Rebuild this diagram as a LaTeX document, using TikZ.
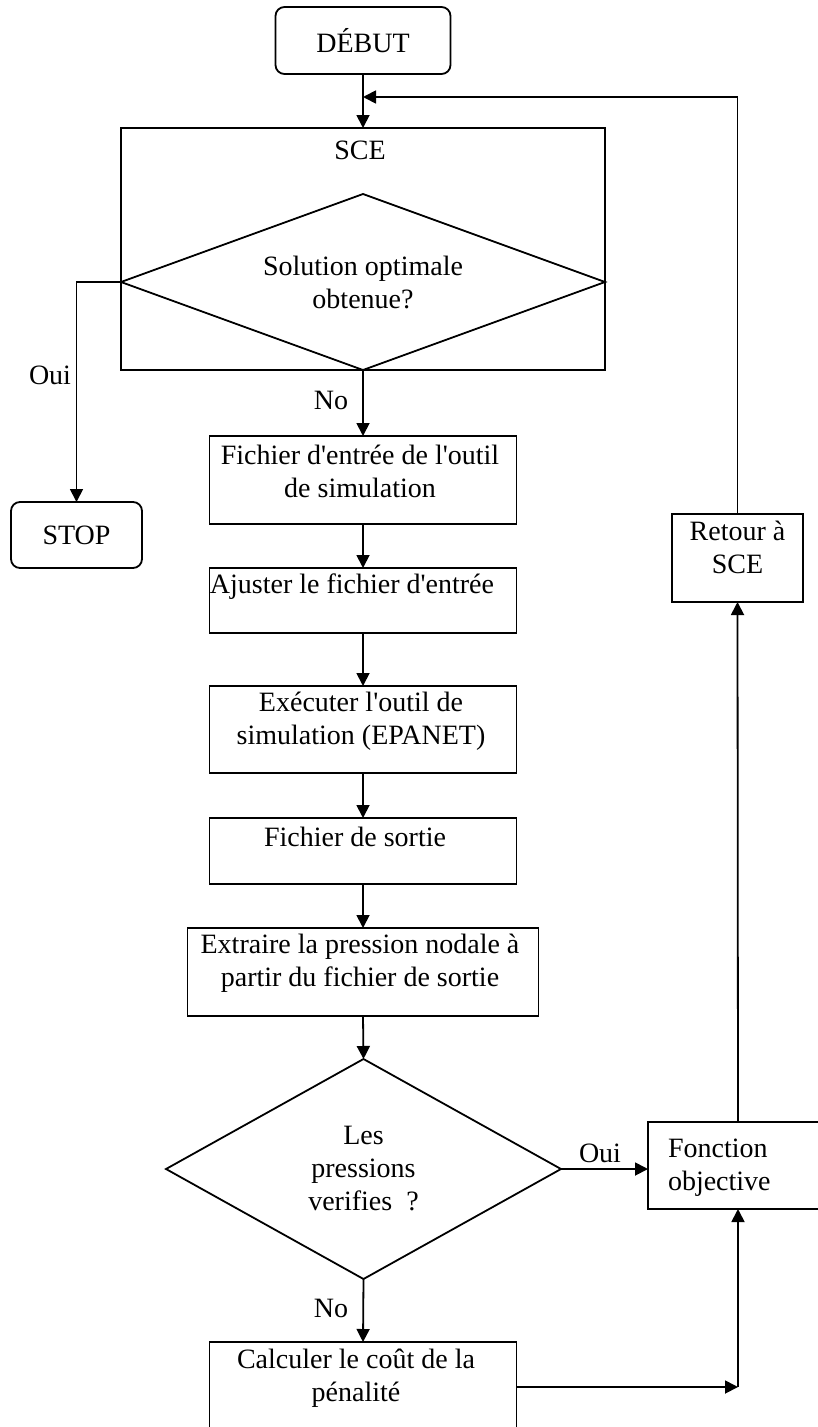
\documentclass[tikz,border=0pt]{standalone}
\usepackage{fontspec}
\setmainfont{Liberation Serif}[Ligatures=TeXOff]
\usetikzlibrary{arrows.meta,shapes.geometric}

\begin{document}
\begin{tikzpicture}[x=1pt,y=-1pt,
  every node/.style={font=\fontsize{28}{33}\selectfont, inner sep=0pt, outer sep=0pt},
  flowbox/.style={draw, line width=1.8pt, rectangle, inner sep=0pt, outer sep=0pt},
  roundbox/.style={flowbox, rounded corners=9pt},
  decision/.style={draw, line width=1.8pt, diamond, inner sep=0pt, outer sep=0pt, align=center},
  txt/.style={align=center},
  conn/.style={line width=1.8pt, -{Triangle[length=13pt,width=13pt]}},
  plain/.style={line width=1.8pt}
]
\useasboundingbox (0,0) rectangle (818,1427);
\clip (0,0) rectangle (818,1427);

% start / stop terminals
\node[roundbox, minimum width=175, minimum height=67] (debut) at (363,40.5) {DÉBUT};
\node[roundbox, minimum width=131, minimum height=66] (stop) at (76.5,535) {STOP};

% SCE block with its decision
\node[flowbox, minimum width=484, minimum height=242] (sce) at (363,249) {};
\node[txt] (scet) at (360,150) {SCE};
\node[decision, minimum width=484, minimum height=176, aspect=2.75] (d1) at (363,282) {Solution optimale\\obtenue?};

% simulation chain
\node[flowbox, minimum width=307, minimum height=88] (b1) at (363,480) {};
\node[txt] (b1t) at (360,471) {Fichier d'entrée de l'outil\\de simulation};

\node[flowbox, minimum width=307, minimum height=65] (b2) at (363,600.5) {};
\node[txt] (b2t) at (352,587) {Ajuster le fichier d'entrée};

\node[flowbox, minimum width=307, minimum height=87] (b3) at (363,729.5) {};
\node[txt] (b3t) at (361,721.5) {Exécuter l'outil de\\simulation (EPANET)};

\node[flowbox, minimum width=307, minimum height=66] (b4) at (363,851) {};
\node[txt] (b4t) at (355,837) {Fichier de sortie};

\node[flowbox, minimum width=351, minimum height=88] (b5) at (363,972) {};
\node[txt] (b5t) at (360,963.5) {Extraire la pression nodale à\\partir du fichier de sortie};

% pressure check
\node[decision, minimum width=395, minimum height=220, aspect=1.8] (d2) at (363.5,1169) {Les\\pressions\\verifies\ \ ?};

\node[flowbox, minimum width=307, minimum height=90] (calc) at (363,1387) {};
\node[txt] (calct) at (356,1378.5) {Calculer le coût de la\\pénalité};

% objective and return
\node[flowbox, minimum width=180, minimum height=87] (fonc) at (738,1165.5) {};
\node[align=left, anchor=west] (fonct) at (668,1167.5) {Fonction\\objective};

\node[flowbox, minimum width=131, minimum height=88] (ret) at (737.5,558) {};
\node[txt] (rett) at (737.5,547.5) {Retour à\\SCE};

\coordinate (retin) at (363,97);
\coordinate (cj) at (738,1387);

% connectors
\draw[conn] (debut.south) -- (sce.north);
\draw[conn] (d1.west) -| (stop.north);
\draw[conn] (d1.south) -- (b1.north);
\draw[conn] (b1) -- (b2);
\draw[conn] (b2) -- (b3);
\draw[conn] (b3) -- (b4);
\draw[conn] (b4) -- (b5);
\draw[conn] (b5.south) -- (d2.north);
\draw[conn] (d2.south) -- (calc.north);
\draw[conn] (d2.east) -- (d2.east -| fonc.west);
\draw[conn] (calc.east) -- (cj);
\draw[conn] (cj) -- (fonc.south);
\draw[conn] (fonc.north) -- (ret.south);
\draw[conn] (ret.north) |- (retin);

% branch labels
\node (oui1) at (50,375) {Oui};
\node (no1) at (331,400) {No};
\node (oui2) at (600,1153) {Oui};
\node (no2) at (331,1308) {No};
\end{tikzpicture}
\end{document}
